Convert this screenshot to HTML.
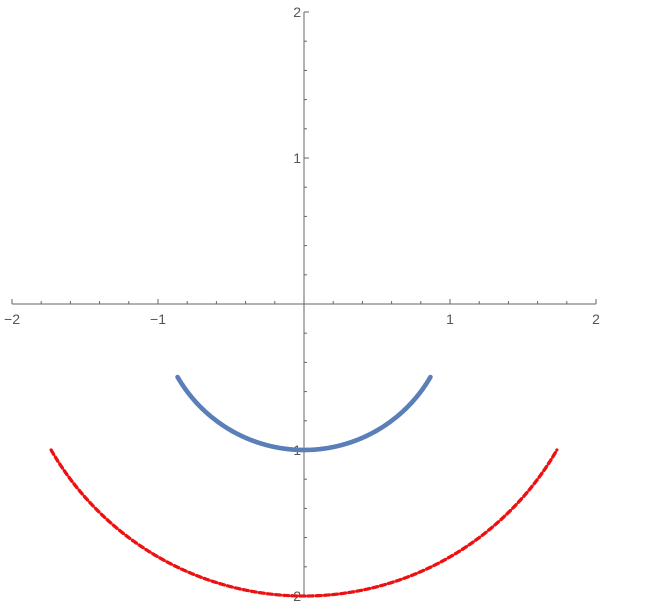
<!DOCTYPE html>
<html><head><meta charset="utf-8"><style>
body{margin:0;background:#fff}
svg{display:block;font-family:"Liberation Sans",sans-serif}
</style></head><body>
<svg id="chart" width="645" height="604" viewBox="0 0 645 604"></svg>
<script>
const seriesNames = ["inner-arc", "outer-arc"];
const seriesRadii = [1, 2];
const seriesColors = ["#5b7fb8", "#ee1111"];
const arcStartDeg = [210, 210];
const arcEndDeg = [330, 330];
const xTicks = [-2, -1, 1, 2];
const yTicks = [-2, -1, 1, 2];
const x0 = 304, y0 = 304, s = 146;
const X = v => x0 + v * s;
const Y = v => y0 - v * s;
const ns = "http://www.w3.org/2000/svg";
const svg = document.getElementById('chart');
function mk(t, a, p) { const e = document.createElementNS(ns, t); for (const k in a) e.setAttribute(k, a[k]); (p || svg).appendChild(e); return e; }
const ax = mk('g', { stroke: '#666', 'stroke-width': 1 });


const xl = mk('line', { x1: X(-2), x2: X(2), y1: y0, y2: y0 }, ax);


const yl = mk('line', { x1: x0, x2: x0, y1: Y(2), y2: Y(-2) }, ax);


for (let i = -10; i <= 10; i++) {
  if (i === 0) continue;
  const v = i / 5, major = i % 5 === 0, L = major ? 5 : 3;
  mk('line', { x1: X(v), x2: X(v), y1: y0, y2: y0 - L }, ax);
  mk('line', { x1: x0, x2: x0 + L, y1: Y(v), y2: Y(v) }, ax);
}
xTicks.forEach(v => {
  const t = mk('text', { x: X(v), y: y0 + 20, 'text-anchor': 'middle', 'font-size': 14, fill: '#555' });
  t.textContent = v < 0 ? '\u2212' + Math.abs(v) : String(v);
  
  
});
yTicks.forEach(v => {
  const t = mk('text', { x: x0 - 3, y: Y(v) + 5, 'text-anchor': 'end', 'font-size': 14, fill: '#555' });
  t.textContent = v < 0 ? '\u2212' + Math.abs(v) : String(v);
  
  
});
seriesRadii.forEach((r, k) => {
  const g = mk('g', { fill: seriesColors[k] });
  
  
  const n = Math.round(300 * r);
  const a0 = arcStartDeg[k] * Math.PI / 180, a1 = arcEndDeg[k] * Math.PI / 180;
  for (let i = 0; i <= n; i++) {
    if (k === 1 && (i % 8 >= 6)) continue;
    const a = a0 + (a1 - a0) * i / n;
    const c = mk('circle', { cx: X(r * Math.cos(a)), cy: Y(r * Math.sin(a)), r: k === 0 ? 2.3 : 1.6 }, g);
    
    
  }
});
</script>
</body></html>
